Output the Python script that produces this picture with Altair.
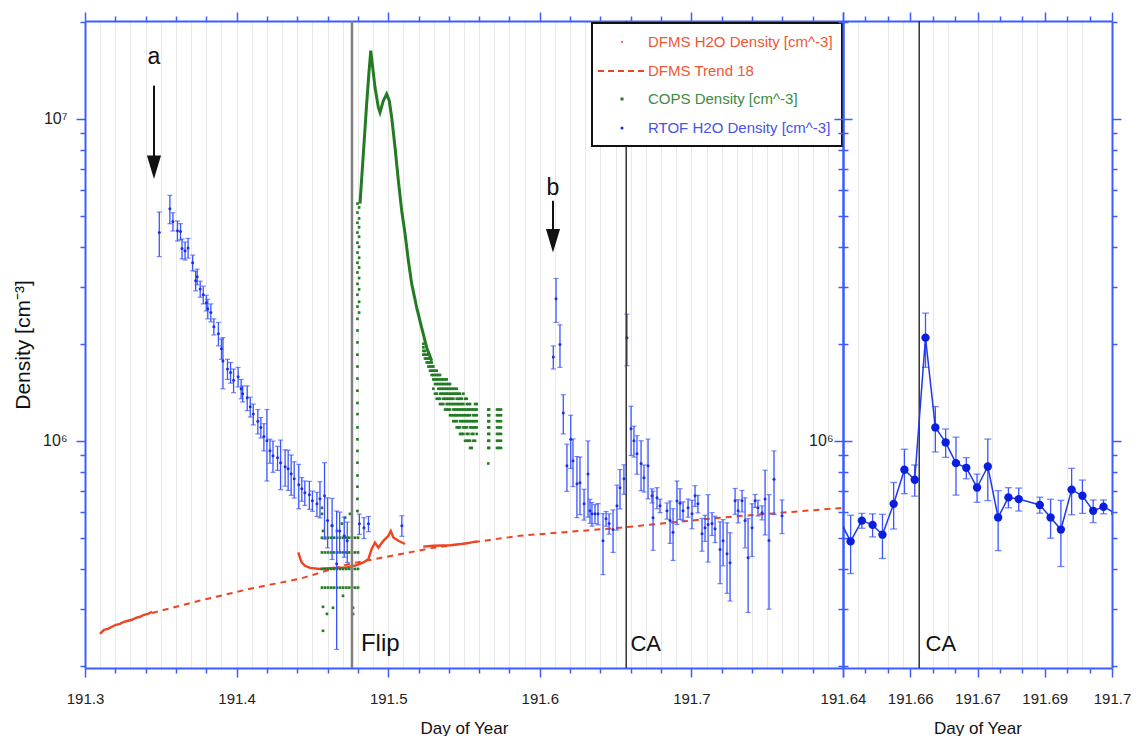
import altair as alt
import pandas as pd

# ---------------- RTOF H2O density, left panel (day, density, error) ----------------
rtof_day = [191.349, 191.356, 191.358, 191.361, 191.363, 191.364, 191.366, 191.368, 191.371, 191.373,
            191.374, 191.376, 191.378, 191.380, 191.381, 191.383, 191.385, 191.388, 191.390, 191.391,
            191.394, 191.396, 191.398, 191.401, 191.403, 191.404, 191.407, 191.409, 191.411, 191.414,
            191.416, 191.418, 191.420, 191.422, 191.424, 191.427, 191.429, 191.432, 191.434, 191.436,
            191.438, 191.441, 191.443, 191.445, 191.448, 191.450, 191.453, 191.455, 191.458, 191.460,
            191.463, 191.466, 191.468, 191.471, 191.473, 191.481, 191.484, 191.487, 191.509,
            191.6089, 191.6107, 191.6133, 191.6155, 191.6179, 191.6204, 191.6219, 191.6245, 191.6265, 191.6292,
            191.6318, 191.6331, 191.6344, 191.6364, 191.6384, 191.6417, 191.6437, 191.6457, 191.6483, 191.6509,
            191.6529, 191.6555, 191.6575, 191.6602, 191.6621, 191.6641, 191.6668, 191.6687, 191.6714, 191.6740,
            191.6747, 191.6773, 191.6793, 191.6839, 191.6859, 191.6879, 191.6905, 191.6925, 191.6945, 191.6978,
            191.7004, 191.7024, 191.7043, 191.7070, 191.7090, 191.7110, 191.7136, 191.7156, 191.7189, 191.7209,
            191.7235, 191.7255, 191.7288, 191.7308, 191.7334, 191.7354, 191.7374, 191.7400, 191.7420, 191.7439,
            191.7466, 191.7486, 191.7512, 191.7545, 191.7598]
rtof_val = [4.43e6, 5.25e6, 4.79e6, 4.49e6, 4.46e6, 3.95e6, 3.89e6, 3.97e6, 3.57e6, 3.14e6,
            3.23e6, 2.96e6, 2.84e6, 2.68e6, 2.57e6, 2.50e6, 2.26e6, 2.15e6, 1.93e6, 1.77e6,
            1.67e6, 1.63e6, 1.54e6, 1.58e6, 1.45e6, 1.40e6, 1.36e6, 1.275e6, 1.21e6, 1.15e6,
            1.10e6, 1.03e6, 1.00e6, 9.31e5, 8.98e5, 8.85e5, 8.55e5, 8.30e5, 8.18e5, 7.90e5,
            7.62e5, 7.30e5, 7.09e5, 6.90e5, 6.80e5, 6.51e5, 6.37e5, 6.61e5, 6.75e5, 5.65e5,
            5.45e5, 4.15e5, 5.25e5, 5.07e5, 4.89e5, 5.52e5, 5.37e5, 5.52e5, 5.45e5,
            1.82e6, 2.76e6, 1.99e6, 1.22e6, 8.36e5, 1.01e6, 8.67e5, 7.35e5, 7.40e5, 6.37e5,
            7.89e5, 6.06e5, 5.93e5, 5.93e5, 5.93e5, 4.89e5, 5.73e5, 5.53e5, 5.30e5, 6.28e5,
            7.14e5, 7.62e5, 2.09e6, 1.09e6, 1.00e6, 9.12e5, 8.50e5, 7.67e5, 8.36e5, 6.75e5,
            5.77e5, 6.65e5, 6.28e5, 6.06e5, 5.65e5, 5.20e5, 6.50e5, 6.40e5, 6.06e5, 6.19e5,
            5.93e5, 6.75e5, 6.37e5, 5.14e5, 5.37e5, 5.50e5, 5.53e5, 5.33e5, 4.60e5, 4.89e5,
            4.46e5, 4.18e5, 6.51e5, 6.06e5, 6.51e5, 5.65e5, 4.33e5, 5.37e5, 6.51e5, 6.19e5,
            5.98e5, 6.60e5, 4.90e5, 7.60e5, 5.85e5]
rtof_err = [7.0e5, 5.3e5, 3.1e5, 3.2e5, 2.6e5, 2.8e5, 2.5e5, 2.8e5, 2.0e5, 2.2e5,
            1.8e5, 1.7e5, 1.8e5, 1.5e5, 1.8e5, 1.6e5, 1.3e5, 1.8e5, 1.4e5, 3.2e5,
            1.2e5, 1.2e5, 1.3e5, 1.1e5, 1.0e5, 0.8e5, 1.2e5, 0.9e5, 0.9e5, 1.0e5,
            0.8e5, 1.0e5, 2.5e5, 0.8e5, 1.0e5, 0.76e5, 1.5e5, 1.07e5, 1.17e5, 1.13e5,
            0.98e5, 1.15e5, 0.6e5, 0.6e5, 0.68e5, 0.47e5, 0.55e5, 0.85e5, 1.8e5, 1.0e5,
            1.17e5, 1.9e5, 0.75e5, 0.72e5, 0.7e5, 0.4e5, 0.4e5, 0.3e5, 0.4e5,
            1.5e5, 4.3e5, 3.0e5, 1.7e5, 1.4e5, 1.9e5, 1.46e5, 1.58e5, 1.5e5, 0.7e5,
            2.1e5, 0.52e5, 0.5e5, 0.4e5, 0.45e5, 1.05e5, 0.3e5, 0.4e5, 0.8e5, 1.0e5,
            1.0e5, 0.8e5, 3.8e5, 1.9e5, 1.1e5, 1.25e5, 1.5e5, 0.74e5, 1.76e5, 0.34e5,
            1.2e5, 0.5e5, 0.3e5, 0.35e5, 0.85e5, 0.95e5, 1.0e5, 0.7e5, 0.4e5, 0.4e5,
            0.6e5, 0.5e5, 0.4e5, 0.6e5, 0.5e5, 1.3e5, 0.45e5, 0.5e5, 1.0e5, 0.8e5,
            1.1e5, 1.0e5, 0.6e5, 0.5e5, 0.5e5, 1.0e5, 1.4e5, 1.0e5, 0.3e5, 0.35e5,
            0.3e5, 1.5e5, 1.9e5, 1.7e5, 0.7e5]

# ---------------- RTOF H2O density, right (zoom) panel ----------------
rtof2_day = [191.6385, 191.6417, 191.6442, 191.6466, 191.6488, 191.6513, 191.6537, 191.6560, 191.6584,
             191.6606, 191.6629, 191.6652, 191.6675, 191.6699, 191.6723, 191.6746, 191.6769, 191.6792,
             191.6839, 191.6863, 191.6886, 191.6910, 191.6934, 191.6958, 191.6981, 191.7008]
rtof2_val = [5.95e5, 4.87e5, 5.65e5, 5.48e5, 5.11e5, 6.37e5, 8.13e5, 7.57e5, 2.09e6,
             1.10e6, 9.88e5, 8.52e5, 8.24e5, 7.16e5, 8.32e5, 5.78e5, 6.67e5, 6.59e5,
             6.32e5, 5.78e5, 5.30e5, 7.05e5, 6.75e5, 6.06e5, 6.24e5, 5.95e5]
rtof2_err = [0.5e5, 1.0e5, 0.3e5, 0.45e5, 0.8e5, 1.05e5, 1.28e5, 0.84e5, 4.0e5,
             1.77e5, 1.0e5, 1.74e5, 0.62e5, 0.72e5, 1.8e5, 1.22e5, 0.48e5, 0.54e5,
             0.36e5, 0.8e5, 1.23e5, 1.16e5, 0.8e5, 0.49e5, 0.31e5, 0.4e5]

# ---------------- COPS density ----------------
cops_curve_day = [191.4814, 191.4836, 191.4858, 191.4873, 191.4885, 191.4913, 191.4935, 191.4946,
                  191.4968, 191.4990, 191.5007, 191.5023, 191.5045, 191.5067, 191.5089, 191.5111,
                  191.5133, 191.5155, 191.5188, 191.5221, 191.5254, 191.5287]
cops_curve_val = [5.45e6, 7.78e6, 1.113e7, 1.39e7, 1.626e7, 1.251e7, 1.084e7, 1.046e7,
                  1.137e7, 1.193e7, 1.137e7, 1.009e7, 8.15e6, 6.42e6, 5.18e6, 4.40e6,
                  3.62e6, 3.07e6, 2.59e6, 2.24e6, 1.945e6, 1.77e6]
cops_rise_day = 191.4797
cops_rise_val = [6.05e5, 6.6e5, 7.2e5, 7.8e5, 8.55e5, 9.3e5, 1.01e6, 1.10e6, 1.21e6, 1.31e6,
                 1.43e6, 1.56e6, 1.70e6, 1.85e6, 2.02e6, 2.20e6, 2.39e6, 2.61e6, 2.84e6, 3.07e6,
                 3.33e6, 3.57e6, 3.84e6, 4.12e6, 4.43e6, 4.75e6, 5.11e6, 5.45e6]
cops_rise2_day = 191.4808
cops_rise2_val = [2.5e6, 2.7e6, 2.95e6, 3.2e6, 3.45e6, 3.7e6, 4.0e6, 4.3e6, 4.6e6, 4.9e6, 5.3e6]
cops_flip_days = [191.4563, 191.4583, 191.4603, 191.4623, 191.4642, 191.4662, 191.4682,
                  191.4702, 191.4722, 191.4741, 191.4761, 191.4781, 191.4801]
cops_flip_levels = [3.5e5, 4.0e5, 4.5e5, 5.0e5]
cops_extra_day = [191.4563, 191.4563, 191.4570, 191.4629, 191.4662, 191.4695, 191.4715, 191.4748,
                  191.4570, 191.4596, 191.4636, 191.4768, 191.4768, 191.4570, 191.4702]
cops_extra_val = [6.19e5, 5.93e5, 5.25e5, 5.45e5, 5.25e5, 5.53e5, 5.77e5, 5.93e5,
                  3.05e5, 2.90e5, 3.03e5, 3.03e5, 2.90e5, 2.57e5, 3.30e5]
cops_tail_day = [191.5232, 191.5243, 191.5254, 191.5265, 191.5276, 191.5287, 191.5298, 191.5309,
                 191.5320, 191.5331, 191.5342, 191.5353, 191.5364, 191.5375, 191.5386, 191.5397,
                 191.5408, 191.5419, 191.5430, 191.5441, 191.5452, 191.5463, 191.5474, 191.5485,
                 191.5496, 191.5507, 191.5518, 191.5529, 191.5540, 191.5551, 191.5562, 191.5573,
                 191.5584, 191.5660, 191.5666, 191.5718, 191.5730, 191.5744]
cops_tail_levels = [  # units of 1e5 cm^-3
    [18.5, 19.0, 19.5, 20.0], [18.0, 18.5, 19.0], [17.5, 18.0, 18.5], [17.0, 17.5, 18.0, 18.5],
    [16.5, 17.0, 17.5, 18.0], [16.0, 16.5, 17.0, 17.5], [14.5, 15.5, 16.0, 16.5, 17.0],
    [14.0, 15.0, 15.5, 16.0, 16.5], [13.5, 14.0, 15.0, 15.5, 16.0, 16.5], [13.5, 14.5, 15.0, 15.5, 16.0],
    [13.0, 13.5, 14.0, 14.5, 15.0, 15.5, 16.0], [13.0, 14.0, 14.5, 15.0, 15.5],
    [13.0, 13.5, 14.0, 14.5, 15.0, 15.5], [12.5, 13.5, 14.0, 14.5, 15.0, 15.5],
    [12.5, 13.0, 13.5, 14.0, 14.5, 15.0, 15.5], [12.5, 13.0, 13.5, 14.0, 14.5, 15.0],
    [12.0, 12.5, 13.0, 13.5, 14.0, 14.5, 15.0], [12.0, 13.0, 13.5, 14.0, 14.5],
    [11.5, 12.0, 12.5, 13.0, 13.5, 14.0, 14.5], [11.5, 12.0, 12.5, 13.0, 14.0, 14.5],
    [11.0, 11.5, 12.0, 12.5, 13.0, 13.5, 14.0, 14.5], [11.0, 12.0, 12.5, 13.0, 13.5, 14.0],
    [10.5, 11.0, 11.5, 12.0, 12.5, 13.0, 13.5, 14.0], [10.5, 11.5, 12.0, 12.5, 13.0, 13.5],
    [10.5, 11.0, 11.5, 12.0, 12.5, 13.0, 14.0], [10.0, 11.0, 11.5, 12.0, 12.5, 13.5],
    [10.0, 10.5, 11.0, 11.5, 12.0, 12.5, 13.0, 13.5], [10.0, 10.5, 11.5, 12.0, 12.5, 13.0],
    [9.5, 10.0, 11.0, 11.5, 12.0, 12.5, 13.0], [9.5, 10.5, 11.0, 11.5, 12.5],
    [10.0, 10.5, 11.0, 11.5, 12.0, 12.5], [10.0, 11.0, 11.5, 12.0, 12.5, 13.0],
    [10.5, 11.0, 11.5, 12.0, 12.5, 13.0], [8.5, 9.5, 10.0, 10.5, 11.0, 11.5, 12.0, 12.5],
    [9.5, 10.0, 10.5, 11.0, 11.5, 12.0, 12.5], [9.5, 10.0, 10.5, 11.0, 11.5, 12.0, 12.5],
    [9.5, 10.0, 10.5, 11.0, 11.5, 12.0, 12.5], [9.5, 10.0, 10.5, 11.0, 11.5, 12.0, 12.5]]

# ---------------- DFMS ----------------
dfms1_day = [191.3099, 191.3125, 191.3152, 191.3178, 191.3204, 191.3231, 191.3257,
             191.3284, 191.3310, 191.3336, 191.3363, 191.3389, 191.3416, 191.3442]
dfms1_val = [2.516e5, 2.588e5, 2.607e5, 2.645e5, 2.683e5, 2.702e5, 2.741e5,
             2.761e5, 2.781e5, 2.821e5, 2.841e5, 2.882e5, 2.902e5, 2.944e5]
dfms2_day = [191.4407, 191.4418, 191.4429, 191.4451, 191.4484, 191.4550, 191.4636, 191.4726,
             191.4792, 191.4836, 191.4869, 191.4891, 191.4913, 191.4935, 191.4968, 191.5001,
             191.5017, 191.5034, 191.5067, 191.5111]
dfms2_val = [4.50e5, 4.34e5, 4.19e5, 4.09e5, 4.03e5, 4.00e5, 4.03e5, 4.04e5,
             4.11e5, 4.19e5, 4.29e5, 4.61e5, 4.83e5, 4.66e5, 4.89e5, 5.07e5,
             5.25e5, 5.01e5, 4.89e5, 4.78e5]
dfms3_day = [191.5231, 191.5297, 191.5408, 191.5518, 191.5584]
dfms3_val = [4.69e5, 4.72e5, 4.74e5, 4.80e5, 4.87e5]
trend_day = [191.3442, 191.3759, 191.4088, 191.4418, 191.4748, 191.5296, 191.5869, 191.6529, 191.7189, 191.8]
trend_val = [2.92e5, 3.19e5, 3.47e5, 3.73e5, 4.15e5, 4.65e5, 5.07e5, 5.37e5, 5.77e5, 6.19e5]

# ---------------- annotations ----------------
flip_day = 191.4761
ca_day = 191.657
legend_labels = ["DFMS H2O Density [cm^-3]", "DFMS Trend 18", "COPS Density [cm^-3]", "RTOF H2O Density [cm^-3]"]
legend_colors = ["#ee5636", "#ee5636", "#3c8c3c", "#4653e6"]
x1_major_labels = ["191.3", "191.4", "191.5", "191.6", "191.7"]
x2_major_vals = [191.64, 191.655, 191.67, 191.685, 191.70]
x2_major_labels = ["191.64", "191.66", "191.67", "191.69", "191.7"]

# ---------------- styling ----------------
FN = "'Liberation Sans', Arial, sans-serif"
AX = "#3d5cff"
RED = "#ee4422"
GREEN = "#237b23"
BLUE = "#1e2ee6"
BLUE_EB = "#3a55ff"
W1, W2, H = 758, 269, 647

# ---------------- frames ----------------
rtof = pd.DataFrame({"day": rtof_day, "val": rtof_val, "err": rtof_err})
rtof["lo"] = rtof["val"] - rtof["err"]
rtof["hi"] = rtof["val"] + rtof["err"]
rtof2 = pd.DataFrame({"day": rtof2_day, "val": rtof2_val, "err": rtof2_err})
rtof2["lo"] = rtof2["val"] - rtof2["err"]
rtof2["hi"] = rtof2["val"] + rtof2["err"]

cops_rows = [(cops_rise_day, v) for v in cops_rise_val]
cops_rows += [(cops_rise2_day, v) for v in cops_rise2_val]
cops_rows += [(d, lev) for lev in cops_flip_levels for d in cops_flip_days]
cops_rows += list(zip(cops_extra_day, cops_extra_val))
for d, levs in zip(cops_tail_day, cops_tail_levels):
    cops_rows += [(d, l * 1e5) for l in levs]
cops = pd.DataFrame(cops_rows, columns=["day", "val"])
cops_curve = pd.DataFrame({"day": cops_curve_day, "val": cops_curve_val})

dfms = pd.concat([
    pd.DataFrame({"day": dfms1_day, "val": dfms1_val, "seg": "a"}),
    pd.DataFrame({"day": dfms2_day, "val": dfms2_val, "seg": "b"}),
    pd.DataFrame({"day": dfms3_day, "val": dfms3_val, "seg": "c"}),
])
trend = pd.DataFrame({"day": trend_day, "val": trend_val})
one = pd.DataFrame({"day": [191.5], "val": [1e6]})

# ---------------- scales and axes ----------------
ys = alt.Scale(type="log", domain=[1.97e5, 2.01e7], nice=False)
xs1 = alt.Scale(domain=[191.3, 191.8], nice=False, zero=False)
xs2 = alt.Scale(domain=[191.64, 191.70], nice=False, zero=False)

ytv = [k * 10 ** e for e in (5, 6) for k in range(1, 10) if k * 10 ** e >= 200000] + [10000000, 20000000]
ymajor = "datum.value == 1000000 || datum.value == 10000000"


def tsize(test, big=9, small=5):
    return {"condition": {"test": test, "value": big}, "value": small}


def base_axis(**kw):
    d = dict(domainColor=AX, domainWidth=2, tickColor=AX, tickWidth=1.5, labelColor="#222",
             labelFont=FN, titleFont=FN, titleFontWeight="normal", titleColor="#111",
             labelOverlap=False, labelFlush=False, labelBound=False, grid=False, labelAngle=0)
    d.update(kw)
    return alt.Axis(**d)


xt1 = [round(191.3 + 0.02 * i, 4) for i in range(26)]
xg1 = [round(191.3 + 0.01 * i, 4) for i in range(51)]
x1major = "abs(datum.value*10 - round(datum.value*10)) < 1e-6"
x1tick = "abs(datum.value*50 - round(datum.value*50)) < 1e-6"
x1_label_expr = " : ".join(
    [f"abs(datum.value - {lab}) < 1e-6 ? '{lab}'" for lab in x1_major_labels]) + " : ''"

xt2 = [round(191.64 + 0.005 * i, 4) for i in range(13)]
xg2 = sorted(set(xt2 + [round(191.64 + 0.06 * i / 18, 5) for i in range(19)]))
x2major = " || ".join([f"abs(datum.value - {v}) < 1e-6" for v in x2_major_vals])
x2tick = "abs(datum.value*200 - round(datum.value*200)) < 1e-6"
x2grid = "abs((datum.value-191.64)*300 - round((datum.value-191.64)*300)) < 1e-3"
x2_label_expr = " : ".join(
    [f"abs(datum.value - {v}) < 1e-6 ? '{lab}'" for v, lab in zip(x2_major_vals, x2_major_labels)]) + " : ''"


def carriers(xs, xt, xg, xmajor, xtick, label_expr, ylabel_expr, ytitle, ylabpad, gridtest=None):
    a = alt.Chart(one).mark_point(opacity=0).encode(
        x=alt.X("day:Q", scale=xs, axis=base_axis(
            orient="bottom", values=xt, labelExpr=label_expr, tickSize=tsize(xmajor),
            labelFontSize=15, labelPadding=14, title="Day of Year", titleFontSize=17, titlePadding=14)),
        y=alt.Y("val:Q", scale=ys, axis=base_axis(
            orient="left", values=ytv, labelExpr=ylabel_expr, tickSize=tsize(ymajor),
            labelFontSize=16, labelPadding=ylabpad, title=ytitle, titleFontSize=21,
            titlePadding=9)),
    )
    grid_op = {"condition": {"test": gridtest, "value": 1}, "value": 0} if gridtest else 1
    b = alt.Chart(one).mark_point(opacity=0).encode(
        x=alt.X("day:Q", scale=xs, axis=base_axis(
            orient="top", values=xg, labels=False, title=None, tickSize=tsize(xmajor),
            tickOpacity={"condition": {"test": xtick, "value": 1}, "value": 0},
            grid=True, gridColor="#e9e9e9", gridWidth=1, gridOpacity=grid_op)),
        y=alt.Y("val:Q", scale=ys, axis=base_axis(
            orient="right", values=ytv, labels=False, title=None, tickSize=tsize(ymajor))),
    )
    return [a, b]


def X(xs):
    return alt.X("day:Q", scale=xs, axis=None)


def Y(field="val"):
    return alt.Y(f"{field}:Q", scale=ys, axis=None)


# ---------------- left panel ----------------
L = carriers(xs1, xt1, xg1, x1major, x1tick, x1_label_expr,
             "datum.value == 1000000 ? '10⁶' : datum.value == 10000000 ? '10⁷' : ''",
             "Density  [cm⁻³]", 9)

L.append(alt.Chart(trend).mark_line(color=RED, strokeWidth=2, strokeDash=[6, 5], clip=True).encode(
    x=X(xs1), y=Y()))
L.append(alt.Chart(dfms).mark_line(color=RED, strokeWidth=2.4, clip=True).encode(
    x=X(xs1), y=Y(), detail="seg:N"))
L.append(alt.Chart(cops).mark_square(color=GREEN, size=7, opacity=1, clip=True).encode(
    x=X(xs1), y=Y()))
L.append(alt.Chart(cops_curve).mark_line(color=GREEN, strokeWidth=3, clip=True).encode(
    x=X(xs1), y=Y()))
L.append(alt.Chart(rtof).mark_rule(color=BLUE_EB, strokeWidth=1.3, clip=True).encode(
    x=X(xs1), y=Y("lo"), y2="hi:Q"))
L.append(alt.Chart(rtof).mark_tick(color=BLUE_EB, orient="horizontal", size=5, thickness=1.2, clip=True).encode(
    x=X(xs1), y=Y("lo")))
L.append(alt.Chart(rtof).mark_tick(color=BLUE_EB, orient="horizontal", size=5, thickness=1.2, clip=True).encode(
    x=X(xs1), y=Y("hi")))
L.append(alt.Chart(rtof).mark_circle(color=BLUE, size=9, opacity=1, clip=True).encode(
    x=X(xs1), y=Y()))

vlines = pd.DataFrame({"day": [flip_day, ca_day], "c": ["#808080", "#333333"], "w": [2.5, 1.5]})
L.append(alt.Chart(vlines).mark_rule().encode(
    x=X(xs1), color=alt.Color("c:N", scale=None), strokeWidth=alt.StrokeWidth("w:Q", scale=None)))

ann = pd.DataFrame({"day": [191.482, 191.6598], "val": [2.227e5, 2.227e5], "t": ["Flip", "CA"],
                    "fs": [24, 22]})
L.append(alt.Chart(ann).mark_text(font=FN, align="left", baseline="alphabetic", color="#111").encode(
    x=X(xs1), y=Y(), text="t:N", size=alt.Size("fs:Q", scale=None)))

letters = pd.DataFrame({"day": [191.3455, 191.6087], "val": [1.48e7, 5.81e6], "t": ["a", "b"]})
L.append(alt.Chart(letters).mark_text(font=FN, fontSize=23, align="center", baseline="alphabetic",
                                      color="#111").encode(x=X(xs1), y=Y(), text="t:N"))
shafts = pd.DataFrame({"day": [191.3455, 191.6087], "val": [1.266e7, 5.56e6], "val2": [7.5e6, 4.45e6]})
L.append(alt.Chart(shafts).mark_rule(color="#111", strokeWidth=2).encode(
    x=X(xs1), y=Y(), y2="val2:Q"))
heads = pd.DataFrame({"day": [191.3455, 191.6087], "val": [7.07e6, 4.18e6]})
L.append(alt.Chart(heads).mark_point(shape="M-0.3,-0.5L0.3,-0.5L0,0.5Z", filled=True, fill="#111",
                                     stroke=None, opacity=1, size=2200).encode(x=X(xs1), y=Y()))

# legend box (pixel positions inside the left panel)
L.append(alt.Chart(one).mark_rect(fill="white", stroke="#111", strokeWidth=2).encode(
    x=alt.value(507), x2=alt.value(757), y=alt.value(2), y2=alt.value(125)))
leg_y = [21, 50, 78, 107]
for lab, col, yy in zip(legend_labels, legend_colors, leg_y):
    L.append(alt.Chart(one).mark_text(text=lab, font=FN, fontSize=15, align="left", baseline="middle",
                                      color=col).encode(x=alt.value(563), y=alt.value(yy)))
L.append(alt.Chart(one).mark_circle(color=RED, size=4, opacity=1).encode(x=alt.value(537), y=alt.value(leg_y[0])))
L.append(alt.Chart(one).mark_rule(color=RED, strokeWidth=2, strokeDash=[6, 4]).encode(
    x=alt.value(513), x2=alt.value(560), y=alt.value(leg_y[1])))
L.append(alt.Chart(one).mark_square(color=GREEN, size=9, opacity=1).encode(x=alt.value(537), y=alt.value(leg_y[2])))
L.append(alt.Chart(one).mark_circle(color=BLUE, size=10, opacity=1).encode(x=alt.value(537), y=alt.value(leg_y[3])))

left = alt.layer(*L).resolve_axis(x="independent", y="independent").properties(width=W1, height=H)

# ---------------- right panel ----------------
R = carriers(xs2, xt2, xg2, x2major, x2tick, x2_label_expr,
             "datum.value == 1000000 ? '10⁶' : ''", None, 1, gridtest=x2grid)
R.append(alt.Chart(pd.DataFrame({"day": [ca_day]})).mark_rule(color="#333333", strokeWidth=1.5).encode(
    x=X(xs2)))
R.append(alt.Chart(pd.DataFrame({"day": [191.6584], "val": [2.227e5], "t": ["CA"]})).mark_text(
    font=FN, fontSize=22, align="left", baseline="alphabetic", color="#111").encode(
    x=X(xs2), y=Y(), text="t:N"))
R.append(alt.Chart(rtof2).mark_rule(color=BLUE_EB, strokeWidth=1.3, clip=True).encode(
    x=X(xs2), y=Y("lo"), y2="hi:Q"))
R.append(alt.Chart(rtof2).mark_tick(color=BLUE_EB, orient="horizontal", size=7, thickness=1.3, clip=True).encode(
    x=X(xs2), y=Y("lo")))
R.append(alt.Chart(rtof2).mark_tick(color=BLUE_EB, orient="horizontal", size=7, thickness=1.3, clip=True).encode(
    x=X(xs2), y=Y("hi")))
R.append(alt.Chart(rtof2).mark_line(color="#2038ee", strokeWidth=1.5, clip=True).encode(x=X(xs2), y=Y()))
R.append(alt.Chart(rtof2).mark_circle(color="#0a1ee0", size=70, opacity=1, clip=True).encode(
    x=X(xs2), y=Y()))

right = alt.layer(*R).resolve_axis(x="independent", y="independent").properties(width=W2, height=H)

chart = alt.hconcat(left, right, spacing=0, bounds="flush").properties(
    padding={"left": 4, "top": 3, "right": 0, "bottom": 0}
).configure_view(stroke=None)

chart.save("out.html", embed_options={"renderer": "svg", "actions": False})
